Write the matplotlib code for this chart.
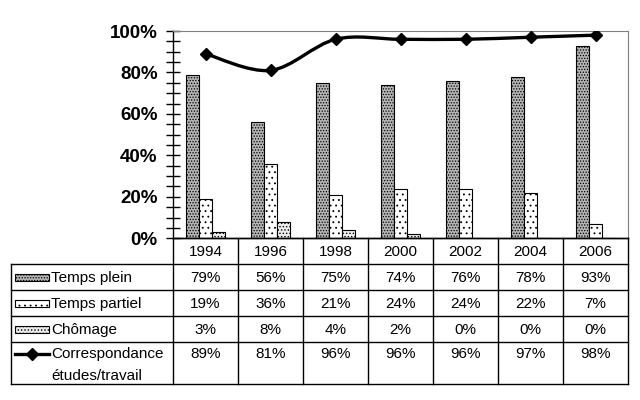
import numpy as np
import matplotlib
matplotlib.use('Agg')
import matplotlib.pyplot as plt
from matplotlib.path import Path
from matplotlib.patches import PathPatch, Rectangle

plt.rcParams['font.family'] = ['Liberation Sans', 'DejaVu Sans']
plt.rcParams['hatch.linewidth'] = 0.6

years = ['1994', '1996', '1998', '2000', '2002', '2004', '2006']
temps_plein = [79, 56, 75, 74, 76, 78, 93]
temps_partiel = [19, 36, 21, 24, 24, 22, 7]
chomage = [3, 8, 4, 2, 0, 0, 0]
correspondance = [89, 81, 96, 96, 96, 97, 98]

series_names = ['Temps plein', 'Temps partiel', 'Chômage', 'Correspondance\nétudes/travail']
bar_series = [temps_plein, temps_partiel, chomage]
bar_styles = [dict(facecolor='#b4b4b4', hatch='......'),
              dict(facecolor='white', hatch='...'),
              dict(facecolor='#ececec', hatch='.....')]

W, H = 640, 400
fig = plt.figure(figsize=(6.4, 4.0), dpi=100)

# plot area in pixels
left, right, top, bottom = 173, 628, 31, 238.3
ax = fig.add_axes([left / W, 1 - bottom / H, (right - left) / W, (bottom - top) / H])

x = np.arange(len(years))
bw = 0.205
for i, (vals, st) in enumerate(zip(bar_series, bar_styles)):
    ax.bar(x + (i - 1) * bw, vals, width=bw, edgecolor='black', linewidth=0.8, **st)

# smoothed line (Catmull-Rom bezier through the data points)
pts = np.column_stack([x, correspondance]).astype(float)
verts = [tuple(pts[0])]
codes = [Path.MOVETO]
for i in range(len(pts) - 1):
    p0 = pts[i - 1] if i > 0 else pts[i]
    p1, p2 = pts[i], pts[i + 1]
    p3 = pts[i + 2] if i + 2 < len(pts) else pts[i + 1]
    c1 = p1 + (p2 - p0) / 6
    c2 = p2 - (p3 - p1) / 6
    verts += [tuple(c1), tuple(c2), tuple(p2)]
    codes += [Path.CURVE4] * 3
ax.add_patch(PathPatch(Path(verts, codes), facecolor='none', edgecolor='black', lw=2.4, zorder=4))
ax.plot(x, correspondance, ls='none', marker='D', ms=6.5, color='black', zorder=5)

ax.set_xlim(-0.5, len(years) - 0.5)
ax.set_ylim(0, 100)
ax.set_yticks(np.arange(0, 101, 20))
ax.set_yticklabels([f'{v}%' for v in range(0, 101, 20)], fontsize=13.5, fontweight='bold')
ax.set_yticks(np.arange(0, 101, 5), minor=True)
ax.tick_params(axis='y', which='both', direction='inout', length=10, width=1, pad=6)
ax.set_xticks([])
ax.spines['left'].set_linewidth(1)
ax.spines['bottom'].set_linewidth(1)
for s in ['top', 'right']:
    ax.spines[s].set_color('#808080')
    ax.spines[s].set_linestyle((0, (1, 1)))
    ax.spines[s].set_linewidth(0.8)

# data table drawn in pixel coordinates
tx = fig.add_axes([0, 0, 1, 1])
tx.set_xlim(0, W)
tx.set_ylim(H, 0)
tx.axis('off')

colw = (right - left) / len(years)
rows = [bottom, 263.7, 290.3, 316.3, 342.3, 384.3]
tab_left = 10.5
lw = 1.0
# horizontal lines
tx.plot([left, right], [rows[0], rows[0]], color='black', lw=lw)
for r in rows[1:]:
    tx.plot([tab_left, right], [r, r], color='black', lw=lw)
# vertical lines
for j in range(len(years) + 1):
    xx = left + j * colw
    tx.plot([xx, xx], [rows[0], rows[-1]], color='black', lw=lw)
tx.plot([tab_left, tab_left], [rows[1], rows[-1]], color='black', lw=lw)

fs = 11
for j, y in enumerate(years):
    tx.text(left + (j + 0.5) * colw, (rows[0] + rows[1]) / 2 + 1, y, ha='center', va='center', fontsize=fs)

all_vals = bar_series + [correspondance]
for i, (name, vals) in enumerate(zip(series_names, all_vals)):
    if i < 3:
        yc = (rows[i + 1] + rows[i + 2]) / 2 + 1
        tx.add_patch(Rectangle((15, yc - 4), 34, 7, edgecolor='black', linewidth=0.8, **bar_styles[i]))
        tx.text(51, yc, name, ha='left', va='center', fontsize=fs)
    else:
        yc = rows[i + 1] + 12
        tx.plot([15, 49], [yc, yc], color='black', lw=2.4)
        tx.plot([32], [yc], marker='D', ms=6, color='black')
        tx.text(51, yc, name.split('\n')[0], ha='left', va='center', fontsize=fs)
        tx.text(51, yc + 22, name.split('\n')[1], ha='left', va='center', fontsize=fs)
    for j, v in enumerate(vals):
        tx.text(left + (j + 0.5) * colw, yc, f'{v}%', ha='center', va='center', fontsize=fs)

fig.savefig('out.png', dpi=100)
